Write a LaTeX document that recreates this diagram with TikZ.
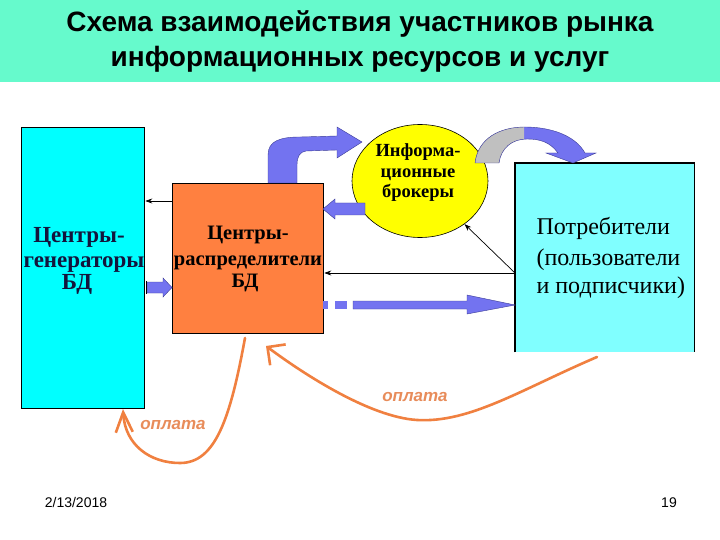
\documentclass[tikz,border=0pt]{standalone}
\usepackage{fontspec}
\setmainfont{Liberation Serif}
\newfontfamily\sansf{Liberation Sans}
\usetikzlibrary{arrows.meta,shapes.geometric}
\definecolor{headbg}{RGB}{102,250,204}
\definecolor{gencol}{RGB}{0,255,255}
\definecolor{conscol}{RGB}{128,255,255}
\definecolor{distcol}{RGB}{255,128,64}
\definecolor{brokcol}{RGB}{255,255,0}
\definecolor{blockcol}{RGB}{115,115,240}
\definecolor{blockedge}{RGB}{60,60,150}
\definecolor{paycol}{RGB}{240,128,64}
\definecolor{paytext}{RGB}{232,140,90}
\definecolor{graycol}{RGB}{192,192,192}
\definecolor{navy}{RGB}{20,20,60}
\begin{document}
\begin{tikzpicture}[x=1pt,y=-1pt,
  box/.style={draw=black, line width=1.3pt, inner sep=0pt, anchor=north west},
  titletext/.style={font=\sansf\bfseries\fontsize{28}{32}\selectfont, anchor=base},
  gentext/.style={font=\bfseries\fontsize{23}{25}\selectfont, text=navy, anchor=base},
  disttext/.style={font=\bfseries\fontsize{20.5}{24}\selectfont, anchor=base},
  broktext/.style={font=\bfseries\fontsize{18.5}{20}\selectfont, anchor=base},
  constext/.style={font=\fontsize{24}{26}\selectfont, anchor=base west},
  thinarr/.style={-{Stealth[length=7pt,width=5pt]}, line width=0.7pt},
  blockarr/.style={fill=blockcol, draw=blockedge, line width=0.4pt},
  payline/.style={draw=paycol, line width=2.6pt, line cap=round},
  paylabel/.style={font=\sansf\bfseries\itshape\fontsize{17}{20}\selectfont, text=paytext},
  foot/.style={font=\sansf\fontsize{14}{16}\selectfont, anchor=base}]
\useasboundingbox (0,0) rectangle (720,540);
\fill[white] (0,0) rectangle (720,540);
\fill[headbg] (0,0) rectangle (720,82);
\node[titletext] (t1) at (360,32) {Схема взаимодействия участников рынка};
\node[titletext] (t2) at (360,67) {информационных ресурсов и услуг};

% boxes
\node[box, fill=gencol, minimum width=123pt, minimum height=281pt] (gen) at (21,127) {};
\node[box, fill=distcol, minimum width=151pt, minimum height=150pt] (dist) at (172,183) {};
\node[fill=conscol, inner sep=0pt, minimum width=179pt, minimum height=189pt, anchor=north west] (cons) at (515,163) {};
\draw[line width=1.3pt] (cons.south west) -- (cons.north west) -- (cons.north east) -- (cons.south east);
\node[ellipse, draw=black, fill=brokcol, line width=0.6pt, minimum width=136pt, minimum height=113pt, inner sep=0pt] (brok) at (420,181) {};

% texts
\node[gentext] (g1) at (79,242) {Центры-};
\node[gentext] (g2) at (84,267) {генераторы};
\node[gentext] (g3) at (77,289) {БД};
\node[disttext] (d1) at (248,240) {Центры-};
\node[disttext] (d2) at (248,265) {распределители};
\node[disttext] (d3) at (245,287) {БД};
\node[broktext] (b1) at (418,157) {Информа-};
\node[broktext] (b2) at (418,178) {ционные};
\node[broktext] (b3) at (418,198) {брокеры};
\node[constext] (c1) at (533,235) {Потребители};
\node[constext] (c2) at (533,265) {(пользователи};
\node[constext] (c3) at (533,293) {и подписчики)};

% thin arrows
\coordinate (ya) at (0,201);
\coordinate (yb) at (0,273);
\draw[thinarr] (dist.west |- ya) -- (gen.east |- ya);
\draw[thinarr] (cons.west |- yb) -- (dist.east |- yb);
\draw[thinarr] (cons.west |- yb) -- (brok);

% block arrows
\filldraw[blockarr] (147,282) -- (163,282) -- (163,278) -- (172,287.5) -- (163,297) -- (163,293) -- (147,293) -- cycle;
\draw[line width=1pt] (146,281) -- (146,294);
\filldraw[blockarr] (365,203) -- (335,203) -- (335,199) -- (323,209) -- (335,219) -- (335,215) -- (365,215) -- cycle;
\fill[blockcol] (323,301) rectangle (328,309);
\fill[blockcol] (335,301) rectangle (347,309);
\filldraw[blockarr] (353,301) -- (467,301) -- (467,295) -- (515,305) -- (467,314) -- (467,309) -- (353,309) -- cycle;
\filldraw[blockarr] (268,183) -- (268,155) .. controls (268,141) and (280,137) .. (300,137) -- (337,136) -- (337,127) -- (362,142) -- (337,158) -- (337,150) -- (306,151) .. controls (300,152) and (297,156) .. (297,165) -- (297,183) -- cycle;
% grey-blue curved arrow
\def\curvedarrow{(475,163) .. controls (478,138) and (500,127) .. (525,127) .. controls (550,127) and (575,135) .. (585,153) -- (596,153) -- (573,163) -- (546,153) -- (558,153) .. controls (550,142) and (540,139) .. (527,139) .. controls (512,139) and (501,148) .. (499,163) -- cycle}
\fill[blockcol] \curvedarrow;
\begin{scope}
\clip (460,110) rectangle (524,170);
\fill[graycol] \curvedarrow;
\end{scope}
\draw[blockedge, line width=0.4pt] \curvedarrow;

% payments
\coordinate (p1s) at (597,357);
\coordinate (p1t) at (266,346);
\coordinate (p2s) at (245,338);
\coordinate (p2t) at (123,409);
\draw[payline, -{Straight Barb[length=13pt,width=26pt]}] (p1s) .. controls (520,390) and (470,423) .. (417,420) .. controls (370,417) and (305,375) .. (p1t);
\draw[payline, -{Straight Barb[length=20pt,width=17pt]}] (p2s) .. controls (230,420) and (215,463) .. (180,463) .. controls (150,463) and (125,445) .. (p2t);
\node[paylabel] (l1) at (415,397) {оплата};
\node[paylabel] (l2) at (173,425) {оплата};

% footer
\node[foot] (date) at (76,507) {2/13/2018};
\node[foot] (page) at (669,507) {19};
\end{tikzpicture}
\end{document}
